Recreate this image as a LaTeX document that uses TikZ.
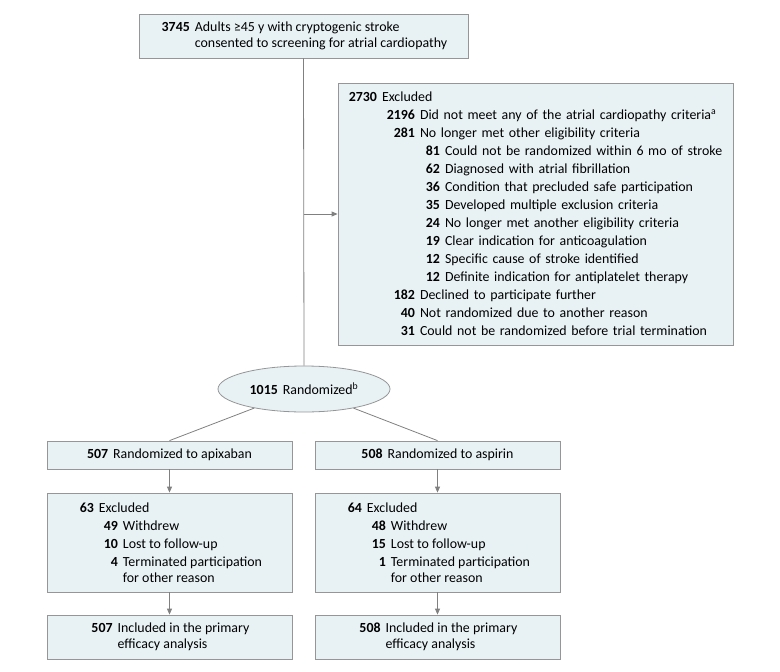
\documentclass[tikz,border=0pt]{standalone}
\usepackage{fontspec}
\setmainfont{Carlito}
\usetikzlibrary{shapes.geometric,arrows.meta}
\definecolor{boxfill}{RGB}{232,242,245}
\definecolor{boxline}{RGB}{150,150,150}
\definecolor{linkgray}{RGB}{128,128,128}
\newcommand{\flowrow}[3]{\makebox[#1][r]{\textbf{#2}}\hspace{5pt}#3}
\tikzset{
  box/.style={draw=boxline, fill=boxfill, line width=0.8pt, inner sep=0pt, align=left},
  link/.style={draw=linkgray, line width=0.8pt},
  arr/.style={link, -{Triangle[length=6pt,width=5pt]}},
}

\begin{document}
\begin{tikzpicture}[x=1pt, y=-1pt, font=\fontsize{13.9}{15.5}\selectfont]
\useasboundingbox (0,0) rectangle (780,672);
\node[box, minimum width=329pt, minimum height=44pt] (screen) at (303.5,36)
  {\flowrow{30pt}{3745}{Adults ≥45 y with cryptogenic stroke}\\
   \flowrow{30pt}{}{consented to screening for atrial cardiopathy}};
\node[box, minimum width=395pt, minimum height=262pt, text width=385pt] (excl) at (535.5,214)
  {\flowrow{34pt}{2730}{Excluded}\\[2.5pt]
   \flowrow{72pt}{2196}{Did not meet any of the atrial cardiopathy criteria\textsuperscript{a}}\\[2.5pt]
   \flowrow{72pt}{281}{No longer met other eligibility criteria}\\[2.5pt]
   \flowrow{97pt}{81}{Could not be randomized within 6 mo of stroke}\\[2.5pt]
   \flowrow{97pt}{62}{Diagnosed with atrial fibrillation}\\[2.5pt]
   \flowrow{97pt}{36}{Condition that precluded safe participation}\\[2.5pt]
   \flowrow{97pt}{35}{Developed multiple exclusion criteria}\\[2.5pt]
   \flowrow{97pt}{24}{No longer met another eligibility criteria}\\[2.5pt]
   \flowrow{97pt}{19}{Clear indication for anticoagulation}\\[2.5pt]
   \flowrow{97pt}{12}{Specific cause of stroke identified}\\[2.5pt]
   \flowrow{97pt}{12}{Definite indication for antiplatelet therapy}\\[2.5pt]
   \flowrow{72pt}{182}{Declined to participate further}\\[2.5pt]
   \flowrow{72pt}{40}{Not randomized due to another reason}\\[2.5pt]
   \flowrow{72pt}{31}{Could not be randomized before trial termination}};
\node[box, ellipse, minimum width=172pt, minimum height=46pt] (rand) at (304,389)
  {\textbf{1015}\hspace{5pt}Randomized\textsuperscript{b}};
% randomized arms
\node[box, minimum width=245pt, minimum height=28pt] (apix) at (169.5,455)
  {\textbf{507}\hspace{5pt}Randomized to apixaban};
\node[box, minimum width=245pt, minimum height=28pt] (asp) at (437.5,455)
  {\textbf{508}\hspace{5pt}Randomized to aspirin};
\node[box, minimum width=245pt, minimum height=99pt] (exA) at (169.5,542.5)
  {\flowrow{17pt}{63}{Excluded}\\[2.6pt]
   \flowrow{41pt}{49}{Withdrew}\\[2.6pt]
   \flowrow{41pt}{10}{Lost to follow-up}\\[2.6pt]
   \flowrow{41pt}{4}{Terminated participation}\\
   \flowrow{41pt}{}{for other reason}};
\node[box, minimum width=245pt, minimum height=99pt] (exB) at (437.5,542.5)
  {\flowrow{17pt}{64}{Excluded}\\[2.6pt]
   \flowrow{41pt}{48}{Withdrew}\\[2.6pt]
   \flowrow{41pt}{15}{Lost to follow-up}\\[2.6pt]
   \flowrow{41pt}{1}{Terminated participation}\\
   \flowrow{41pt}{}{for other reason}};
\node[box, minimum width=245pt, minimum height=44pt] (incA) at (169.5,637)
  {\flowrow{23pt}{507}{Included in the primary}\\
   \flowrow{23pt}{}{efficacy analysis}};
\node[box, minimum width=245pt, minimum height=44pt] (incB) at (437.5,637)
  {\flowrow{23pt}{508}{Included in the primary}\\
   \flowrow{23pt}{}{efficacy analysis}};
\coordinate (split) at (screen.south |- excl.west);
\draw[link] (screen.south) -- (rand.north);
\draw[arr] (split) -- (excl.west);
\draw[link] (rand) -- (apix.north);
\draw[link] (rand) -- (asp.north);
\draw[arr] (apix) -- (exA);
\draw[arr] (asp) -- (exB);
\draw[arr] (exA) -- (incA);
\draw[arr] (exB) -- (incB);
\end{tikzpicture}
\end{document}
